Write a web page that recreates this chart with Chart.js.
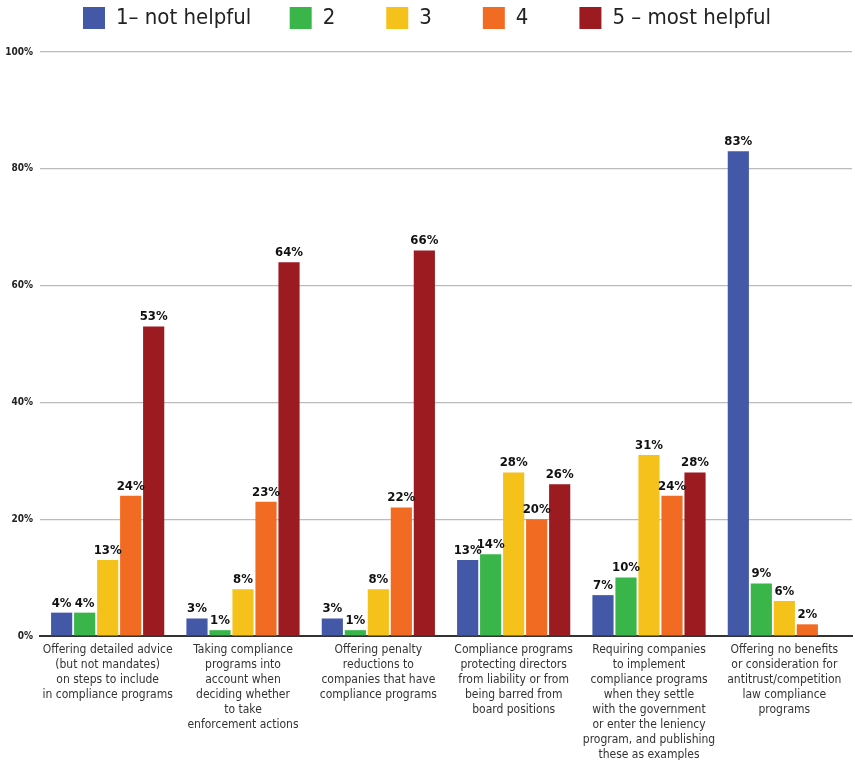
<!DOCTYPE html>
<html>
<head>
<meta charset="utf-8">
<script src="https://cdn.jsdelivr.net/npm/chart.js@4"></script>
<style>
  body { margin: 0; background: #fff; }
  #wrap { width: 855px; height: 760px; }
</style>
</head>
<body>
<div id="wrap"><canvas id="myChart"></canvas></div>
<script>
const categories = [
    ['Offering detailed advice', '(but not mandates)', 'on steps to include', 'in compliance programs'],
    ['Taking compliance', 'programs into', 'account when', 'deciding whether', 'to take', 'enforcement actions'],
    ['Offering penalty', 'reductions to', 'companies that have', 'compliance programs'],
    ['Compliance programs', 'protecting directors', 'from liability or from', 'being barred from', 'board positions'],
    ['Requiring companies', 'to implement', 'compliance programs', 'when they settle', 'with the government', 'or enter the leniency', 'program, and publishing', 'these as examples'],
    ['Offering no benefits', 'or consideration for', 'antitrust/competition', 'law compliance', 'programs']
];
const seriesNames = ['1– not helpful', '2', '3', '4', '5 – most helpful'];
const notHelpful = [4, 3, 3, 13, 7, 83];
const two = [4, 1, 1, 14, 10, 9];
const three = [13, 8, 8, 28, 31, 6];
const four = [24, 23, 22, 20, 24, 2];
const mostHelpful = [53, 64, 66, 26, 28, 0];
const yTicks = [0, 20, 40, 60, 80, 100];
const colors = ['#4458a8', '#39b54a', '#f5c11b', '#f26b22', '#9b1b20'];

const FONT = '"DejaVu Sans Condensed", "Liberation Sans Narrow", sans-serif';

// percent labels above each bar
const valueLabels = {
    id: 'valueLabels',
    afterDatasetsDraw(chart) {
        const ctx = chart.ctx;
        ctx.save();
        ctx.font = 'bold 13px ' + FONT;
        ctx.fillStyle = '#111';
        ctx.textAlign = 'center';
        ctx.textBaseline = 'bottom';
        chart.data.datasets.forEach((ds, i) => {
            chart.getDatasetMeta(i).data.forEach((bar, j) => {
                const v = ds.data[j];
                if (!v) return;
                ctx.fillText(v + '%', bar.x, bar.y - 3);
            });
        });
        ctx.restore();
    }
};

// keep the legend strip short
const legendHeight = {
    id: 'legendHeight',
    beforeInit(chart) {
        const fit = chart.legend.fit;
        chart.legend.fit = function () {
            fit.call(this);
            this.height = 52;
        };
    }
};

// extra room after each legend entry (last one gets none)
const legendGaps = ['     ', '       ', '       ', '       ', ''];

const allSeries = [notHelpful, two, three, four, mostHelpful];

const ctx = document.getElementById('myChart').getContext('2d');
const myChart = new Chart(ctx, {
    type: 'bar',
    data: {
        labels: categories,
        datasets: allSeries.map((d, i) => ({
            label: seriesNames[i],
            data: d,
            backgroundColor: colors[i],
            borderWidth: 0,
            categoryPercentage: 0.85,
            barPercentage: 0.92
        }))
    },
    options: {
        responsive: true,
        maintainAspectRatio: false,
        animation: false,
        layout: { padding: { left: 2, right: 3, top: 0, bottom: 0 } },
        plugins: {
            legend: {
                position: 'top',
                labels: {
                    boxWidth: 22,
                    boxHeight: 22,
                    padding: 7,
                    color: '#222',
                    font: { family: FONT, size: 22 },
                    generateLabels(chart) {
                        const items = Chart.defaults.plugins.legend.labels.generateLabels(chart);
                        items.forEach((it, i) => { it.text += legendGaps[i]; });
                        return items;
                    }
                }
            },
            tooltip: { enabled: false }
        },
        scales: {
            x: {
                grid: { display: false, drawTicks: false },
                border: { color: '#333', width: 2 },
                afterFit: axis => { axis.height = 124; },
                ticks: {
                    color: '#333',
                    maxRotation: 0,
                    autoSkip: false,
                    padding: 6,
                    font: { family: FONT, size: 12, lineHeight: 1.25 }
                }
            },
            y: {
                min: 0,
                max: 100,
                afterBuildTicks: axis => { axis.ticks = yTicks.map(v => ({ value: v })); },
                afterFit: axis => { axis.width = 38; },
                grid: { color: '#bbb', lineWidth: 1.2, drawTicks: false },
                border: { display: false },
                ticks: {
                    color: '#222',
                    padding: 7,
                    font: { family: FONT, size: 10, weight: 'bold' },
                    callback: v => v + '%'
                }
            }
        }
    },
    plugins: [valueLabels, legendHeight]
});
</script>
</body>
</html>
